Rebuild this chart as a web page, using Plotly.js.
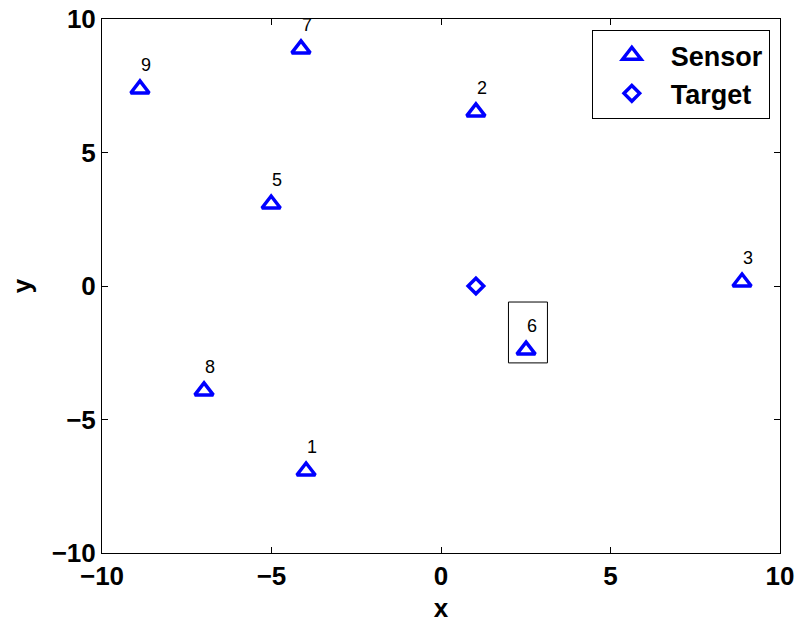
<!DOCTYPE html>
<html>
<head>
<meta charset="utf-8">
<script src="https://cdn.plot.ly/plotly-3.0.1.min.js"></script>
<style>html,body{margin:0;padding:0;background:#fff;}#chart{width:799px;height:623px;}</style>
</head>
<body>
<div id="chart"></div>
<script>
const sensorIds = [1, 2, 3, 5, 6, 7, 8, 9];
const sensorX = [-3.98, 1.03, 8.88, -5.01, 2.51, -4.13, -6.99, -8.88];
const sensorY = [-6.93, 6.52, 0.15, 3.07, -2.40, 8.88, -3.93, 7.38];
const targetX = [1.03];
const targetY = [0.0];
const highlightId = 6;
const xTicks = [-10, -5, 0, 5, 10];
const yTicks = [-10, -5, 0, 5, 10];
const tickText = ['\u221210', '\u22125', '0', '5', '10'];

const font = 'Liberation Sans, Arial, Helvetica, sans-serif';

const traces = [
  {x: sensorX, y: sensorY, mode: 'markers', name: 'Sensor', type: 'scatter',
   marker: {symbol: 'triangle-up-open', size: 16, color: '#0000ff', line: {width: 3.5, color: '#0000ff'}}},
  {x: targetX, y: targetY, mode: 'markers', name: 'Target', type: 'scatter',
   marker: {symbol: 'diamond-open', size: 12, color: '#0000ff', line: {width: 3.5, color: '#0000ff'}}}
];

const annotations = sensorIds.map((id, i) => ({
  x: sensorX[i], y: sensorY[i], xref: 'x', yref: 'y', text: String(id), showarrow: false,
  xshift: 6, yshift: 24, font: {family: font, size: 18, color: '#000'}
}));

const hi = sensorIds.indexOf(highlightId);
const shapes = [{
  type: 'rect', xref: 'x', yref: 'y',
  x0: sensorX[hi] - 0.52, x1: sensorX[hi] + 0.63,
  y0: sensorY[hi] - 0.48, y1: sensorY[hi] + 1.8,
  line: {color: '#000', width: 1}, fillcolor: 'rgba(0,0,0,0)'
}];

const axisCommon = {
  showgrid: false, zeroline: false, showline: true, linecolor: '#000', linewidth: 1,
  mirror: 'ticks', ticks: 'inside', ticklen: 6, tickcolor: '#000',
  tickfont: {family: font, size: 26, color: '#000', weight: 'bold'},
  tickmode: 'array', ticktext: tickText
};

const layout = {
  width: 799, height: 623,
  margin: {l: 102, r: 19, t: 19, b: 70},
  paper_bgcolor: '#fff', plot_bgcolor: '#fff',
  showlegend: true,
  legend: {x: 0.985, xanchor: 'right', y: 0.979, yanchor: 'top',
    bordercolor: '#000', borderwidth: 1, bgcolor: '#fff',
    font: {family: font, size: 27, color: '#000', weight: 'bold'},
    itemwidth: 68, tracegroupgap: 0},
  xaxis: Object.assign({}, axisCommon, {range: [-10, 10], tickvals: xTicks,
    title: {text: 'x', standoff: 11, font: {family: font, size: 26, color: '#000', weight: 'bold'}}}),
  yaxis: Object.assign({}, axisCommon, {range: [-10, 10], tickvals: yTicks,
    title: {text: 'y', standoff: 12, font: {family: font, size: 26, color: '#000', weight: 'bold'}}}),
  annotations: annotations,
  shapes: shapes
};

Plotly.newPlot('chart', traces, layout, {displayModeBar: false, staticPlot: true});
</script>
</body>
</html>
